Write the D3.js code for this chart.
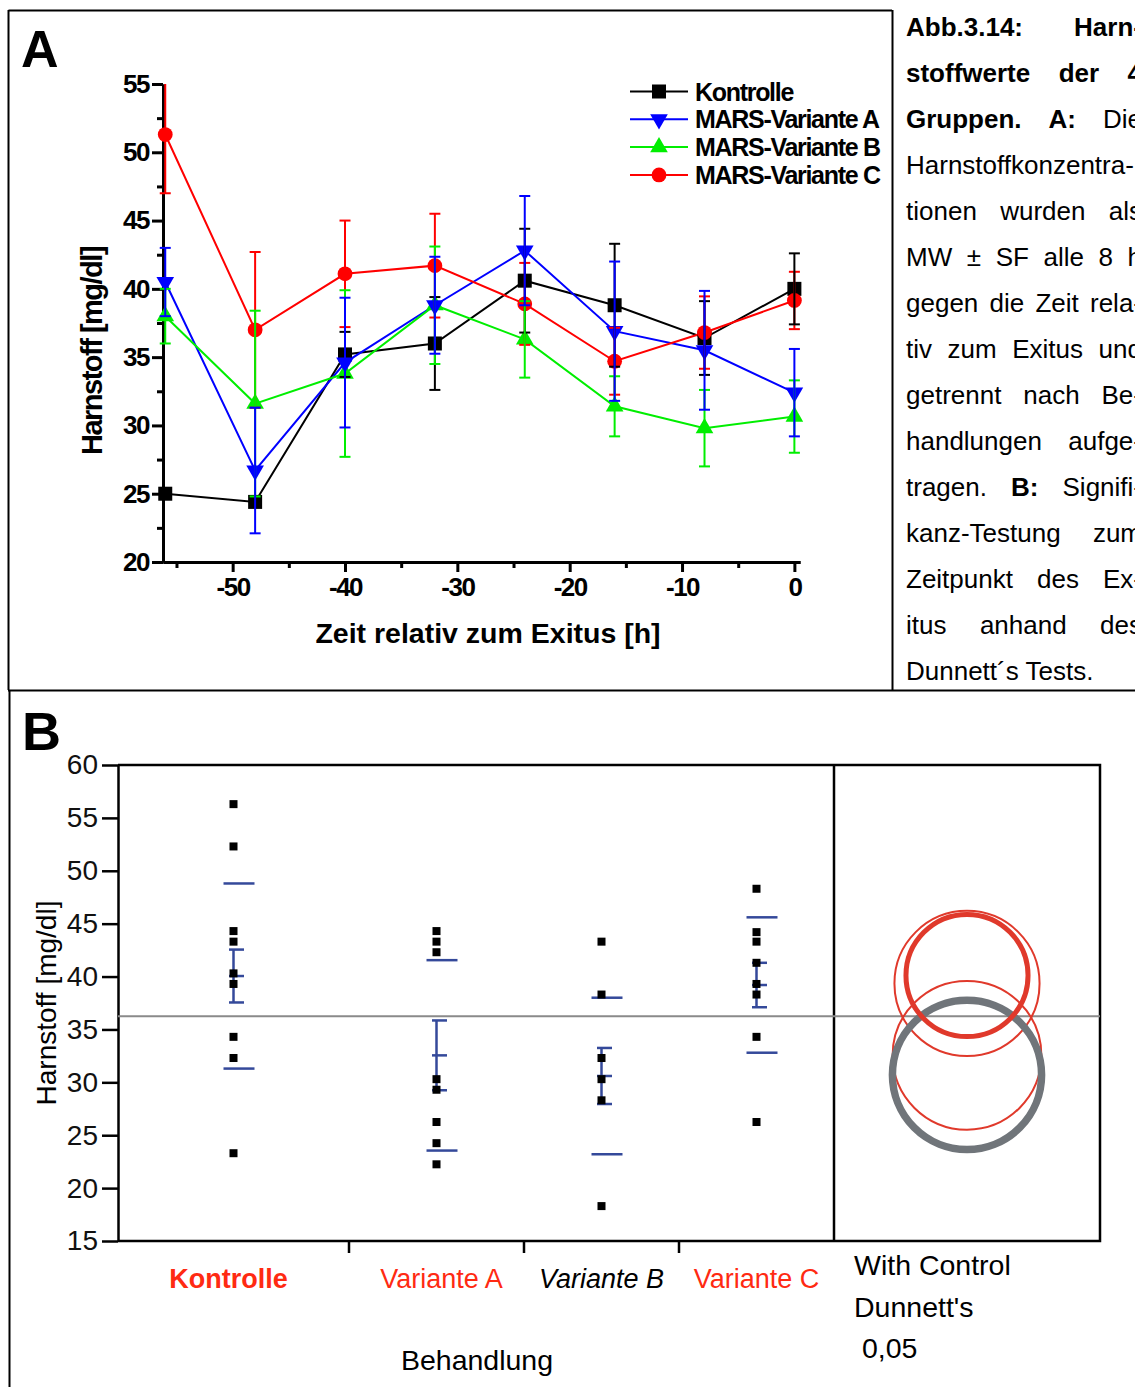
<!DOCTYPE html>
<html>
<head>
<meta charset="utf-8">
<script src="https://cdn.jsdelivr.net/npm/d3@7"></script>
<style>
body { margin: 0; background: #fff; }
svg { display: block; font-family: "Liberation Sans", Arial, Helvetica, sans-serif; }
</style>
</head>
<body>
<script>
// ---- panel A : time course (mean +/- SE) ----
var hours = [-56, -48, -40, -32, -24, -16, -8, 0];
var kontrolleMean = [25.0, 24.4, 35.2, 36.0, 40.6, 38.8, 36.4, 40.0];
var kontrolleErr = [0, 0, 1.65, 3.4, 3.8, 4.5, 2.7, 2.6];
var varAMean = [40.5, 26.7, 34.6, 38.8, 42.8, 36.9, 35.5, 32.4];
var varAErr = [2.5, 4.6, 4.75, 3.55, 4.0, 5.1, 4.35, 3.2];
var varBMean = [38.0, 31.6, 33.8, 38.8, 36.3, 31.4, 29.8, 30.65];
var varBErr = [2.0, 6.8, 6.1, 4.3, 2.8, 2.2, 2.8, 2.65];
var varCMean = [51.3, 37.0, 41.1, 41.7, 38.9, 34.7, 36.8, 39.15];
var varCErr = [4.3, 5.7, 3.9, 3.8, 3.0, 2.45, 2.65, 2.1];
var seriesNames = ["Kontrolle", "MARS-Variante A", "MARS-Variante B", "MARS-Variante C"];
var yTicksA = [20, 25, 30, 35, 40, 45, 50, 55];
var xTicksA = [-50, -40, -30, -20, -10, 0];

// ---- panel B : values at exitus ----
var groups = ["Kontrolle", "Variante A", "Variante B", "Variante C"];
var kontrollePts = [56.3, 52.3, 44.3, 43.3, 40.3, 39.3, 34.3, 32.3, 23.3];
var varAPts = [44.3, 43.3, 42.3, 30.3, 29.3, 26.25, 24.25, 22.25];
var varBPts = [43.3, 38.3, 32.3, 30.3, 28.3, 18.3];
var varCPts = [48.3, 44.2, 43.3, 41.3, 39.3, 38.3, 34.3, 26.25];
var groupMean = [40.05, 32.55, 30.6, 39.2];
var groupSE = [2.5, 3.3, 2.65, 2.1];
var groupSD = [8.75, 9.0, 7.4, 6.4];
var grandMean = 36.25;
var circleCenter = [40.1, 32.55, 30.7, 39.35];
var circleRadius = [5.77, 7.03, 7.05, 6.86];
var yTicksB = [15, 20, 25, 30, 35, 40, 45, 50, 55, 60];

var captionLines = [
	[["Abb.3.14:", 1], ["Harn-", 1]],
	[["stoffwerte", 1], ["der", 1], ["4", 1]],
	[["Gruppen.", 1], ["A:", 1], ["Die", 0]],
	[["Harnstoffkonzentra-", 0]],
	[["tionen", 0], ["wurden", 0], ["als", 0]],
	[["MW", 0], ["±", 0], ["SF", 0], ["alle", 0], ["8", 0], ["h", 0]],
	[["gegen", 0], ["die", 0], ["Zeit", 0], ["rela-", 0]],
	[["tiv", 0], ["zum", 0], ["Exitus", 0], ["und", 0]],
	[["getrennt", 0], ["nach", 0], ["Be-", 0]],
	[["handlungen", 0], ["aufge-", 0]],
	[["tragen.", 0], ["B:", 1], ["Signifi-", 0]],
	[["kanz-Testung", 0], ["zum", 0]],
	[["Zeitpunkt", 0], ["des", 0], ["Ex-", 0]],
	[["itus", 0], ["anhand", 0], ["des", 0]],
	[["Dunnett´s Tests.", 0]]
];

var svg = d3.select("body").append("svg").attr("width", 1135).attr("height", 1387);
svg.append("rect").attr("width", 1135).attr("height", 1387).attr("fill", "#fff");

// frame lines
var frame = [[8.5, 10.5, 892, 10.5], [8.5, 10, 8.5, 690], [892.5, 10, 892.5, 690],
	[8, 690.5, 1135, 690.5], [9.5, 690, 9.5, 1387]];
frame.forEach(function(f) {
	svg.append("line").attr("x1", f[0]).attr("y1", f[1]).attr("x2", f[2]).attr("y2", f[3])
		.attr("stroke", "#000").attr("stroke-width", 2);
});

// ================= panel A =================
var xA = d3.scaleLinear().domain([-56.2, 0.5]).range([163, 800]);
var yA = d3.scaleLinear().domain([20, 55]).range([562, 84]);
var gA = svg.append("g");

gA.append("text").attr("x", 21).attr("y", 67).attr("font-size", 52).attr("font-weight", "bold").text("A");

function styleAxisA(g) {
	g.selectAll("path, line").attr("stroke", "#000").attr("stroke-width", 3);
	g.selectAll("text").attr("font-family", "Liberation Sans, Arial, sans-serif")
		.attr("font-size", 26).attr("font-weight", "bold").attr("letter-spacing", "-1.5px")
		.attr("fill", "#000");
}
var plain = function(d) { return String(d); };
var minorY = d3.range(22.5, 55, 5);
var minorX = d3.range(-55, 0, 10);
gA.append("g").attr("transform", "translate(163,0)")
	.call(d3.axisLeft(yA).tickValues(minorY).tickSize(6).tickSizeOuter(0).tickFormat(""))
	.call(styleAxisA);
gA.append("g").attr("transform", "translate(0,562)")
	.call(d3.axisBottom(xA).tickValues(minorX).tickSize(6).tickSizeOuter(0).tickFormat(""))
	.call(styleAxisA);
gA.append("g").attr("transform", "translate(163,0)")
	.call(d3.axisLeft(yA).tickValues(yTicksA).tickSize(11).tickPadding(3).tickSizeOuter(0).tickFormat(plain))
	.call(styleAxisA);
gA.append("g").attr("transform", "translate(0,562)")
	.call(d3.axisBottom(xA).tickValues(xTicksA).tickSize(10).tickPadding(6).tickSizeOuter(0).tickFormat(plain))
	.call(styleAxisA);

gA.append("text").attr("x", 488).attr("y", 643).attr("text-anchor", "middle")
	.attr("font-size", 28.5).attr("font-weight", "bold").attr("letter-spacing", "0px")
	.text("Zeit relativ zum Exitus [h]");
gA.append("text").attr("transform", "translate(102,351) rotate(-90)").attr("text-anchor", "middle")
	.attr("font-size", 29).attr("font-weight", "bold").attr("letter-spacing", "-1.5px")
	.text("Harnstoff [mg/dl]");

var seriesA = [
	{ name: seriesNames[0], mean: kontrolleMean, err: kontrolleErr, color: "#000000", shape: "square" },
	{ name: seriesNames[1], mean: varAMean, err: varAErr, color: "#0000ff", shape: "down" },
	{ name: seriesNames[2], mean: varBMean, err: varBErr, color: "#00ee00", shape: "up" },
	{ name: seriesNames[3], mean: varCMean, err: varCErr, color: "#ff0000", shape: "circle" }
];

function drawMarker(g, shape, color, x, y) {
	if (shape == "square") {
		g.append("rect").attr("x", x - 7).attr("y", y - 7).attr("width", 14).attr("height", 14).attr("fill", color);
	} else if (shape == "circle") {
		g.append("circle").attr("cx", x).attr("cy", y).attr("r", 7.4).attr("fill", color);
	} else {
		g.append("path").attr("d", d3.symbol().type(d3.symbolTriangle).size(135)())
			.attr("transform", "translate(" + x + "," + y + ")" + (shape == "down" ? " rotate(180)" : ""))
			.attr("fill", color);
	}
}

var lineGen = d3.line().x(function(d) { return xA(d[0]); }).y(function(d) { return yA(d[1]); });
var linesLayer = gA.append("g"), markLayer = gA.append("g"), errLayer = gA.append("g");

seriesA.forEach(function(s) {
	var pts = hours.map(function(h, i) { return [h, s.mean[i]]; });
	linesLayer.append("path").attr("d", lineGen(pts)).attr("fill", "none")
		.attr("stroke", s.color).attr("stroke-width", 2);
});
[0, 2, 1, 3].forEach(function(k) {
	var s = seriesA[k];
	hours.forEach(function(h, i) { drawMarker(markLayer, s.shape, s.color, xA(h), yA(s.mean[i])); });
});
[3, 0, 2, 1].forEach(function(k) {
	var s = seriesA[k];
	hours.forEach(function(h, i) {
		if (!s.err[i]) return;
		var hi = s.mean[i] + s.err[i], lo = s.mean[i] - s.err[i];
		var clipped = hi > 55;
		hi = Math.min(hi, 55);
		var x = xA(h);
		errLayer.append("line").attr("x1", x).attr("x2", x).attr("y1", yA(lo)).attr("y2", yA(hi))
			.attr("stroke", s.color).attr("stroke-width", 2);
		[lo, hi].forEach(function(v, j) {
			if (j == 1 && clipped) return;
			errLayer.append("line").attr("x1", x - 5.5).attr("x2", x + 5.5).attr("y1", yA(v)).attr("y2", yA(v))
				.attr("stroke", s.color).attr("stroke-width", 2);
		});
	});
});

// legend
svg.append("defs").append("clipPath").attr("id", "legclip").append("rect")
	.attr("x", 600).attr("y", 60).attr("width", 281).attr("height", 140);
var leg = gA.append("g").attr("clip-path", "url(#legclip)");
seriesA.forEach(function(s, i) {
	var ly = 91.5 + i * 27.8;
	leg.append("line").attr("x1", 630).attr("x2", 688).attr("y1", ly).attr("y2", ly)
		.attr("stroke", s.color).attr("stroke-width", 2);
	drawMarker(leg, s.shape, s.color, 659, ly);
	leg.append("text").attr("x", 695).attr("y", ly + 9).attr("font-size", 25).attr("font-weight", "bold")
		.attr("letter-spacing", "-1.3px").text(s.name);
});

// caption (justified, runs off the right edge like the scan)
var capLeft = 906, capRight = 1142;
captionLines.forEach(function(line, li) {
	var by = 35.5 + li * 46;
	var words = line.map(function(w) {
		return svg.append("text").attr("y", by).attr("font-size", 26)
			.attr("font-weight", w[1] ? "bold" : "normal").text(w[0]);
	});
	var widths = words.map(function(t) { return t.node().getComputedTextLength(); });
	var total = d3.sum(widths);
	var gap = (words.length > 1 && li < captionLines.length - 1) ? (capRight - capLeft - total) / (words.length - 1) : 7;
	var x = capLeft;
	words.forEach(function(t, i) { t.attr("x", x); x += widths[i] + gap; });
});

// ================= panel B =================
var gB = svg.append("g");
var yB = d3.scaleLinear().domain([15, 60]).range([1241, 765]);
var cum = [0, 231, 406, 561, 716];
var xB = d3.scaleLinear().domain([0, 716]).range([118, 834]);
var centers = groups.map(function(g, i) { return xB((cum[i] + cum[i + 1]) / 2); });
var labelShift = [-5, 5, 0, 0];

gB.append("text").attr("x", 22).attr("y", 750).attr("font-size", 54).attr("font-weight", "bold").text("B");

var axB = gB.append("g").attr("transform", "translate(118,0)")
	.call(d3.axisLeft(yB).tickValues(yTicksB).tickSize(16).tickPadding(4).tickSizeOuter(0));
axB.selectAll("path, line").attr("stroke", "#000").attr("stroke-width", 2.5);
axB.selectAll("text").attr("font-family", "Liberation Sans, Arial, sans-serif").attr("font-size", 28).attr("fill", "#111");

// frame
gB.append("path").attr("d", "M118,765H1100V1241H118").attr("fill", "none").attr("stroke", "#000").attr("stroke-width", 2.5);
gB.append("line").attr("x1", 834).attr("x2", 834).attr("y1", 765).attr("y2", 1241).attr("stroke", "#000").attr("stroke-width", 2.5);
cum.slice(1, 4).forEach(function(c) {
	gB.append("line").attr("x1", xB(c)).attr("x2", xB(c)).attr("y1", 1241).attr("y2", 1253)
		.attr("stroke", "#000").attr("stroke-width", 2.5);
});

// grand mean line
gB.append("line").attr("x1", 118).attr("x2", 1100).attr("y1", yB(grandMean)).attr("y2", yB(grandMean))
	.attr("stroke", "#8a8a8a").attr("stroke-width", 2);

var blue = "#34499a";
var allPts = [kontrollePts, varAPts, varBPts, varCPts];
groups.forEach(function(g, i) {
	var cx = centers[i];
	var m = groupMean[i];
	[m - groupSD[i], m + groupSD[i]].forEach(function(v) {
		gB.append("line").attr("x1", cx - 10).attr("x2", cx + 21).attr("y1", yB(v)).attr("y2", yB(v))
			.attr("stroke", blue).attr("stroke-width", 2.5);
	});
	gB.append("line").attr("x1", cx).attr("x2", cx).attr("y1", yB(m - groupSE[i])).attr("y2", yB(m + groupSE[i]))
		.attr("stroke", blue).attr("stroke-width", 2.5);
	[m - groupSE[i], m, m + groupSE[i]].forEach(function(v) {
		gB.append("line").attr("x1", cx - 4.5).attr("x2", cx + 10.5).attr("y1", yB(v)).attr("y2", yB(v))
			.attr("stroke", blue).attr("stroke-width", 2.5);
	});
	allPts[i].forEach(function(v) {
		gB.append("rect").attr("x", cx - 4).attr("y", yB(v) - 4).attr("width", 8).attr("height", 8).attr("fill", "#000");
	});
});

// comparison circles
var circleStyle = [
	{ color: "#e0392b", width: 5 },
	{ color: "#e0392b", width: 2 },
	{ color: "#70757a", width: 7.5 },
	{ color: "#e0392b", width: 2 }
];
[1, 3, 2, 0].forEach(function(i) {
	gB.append("circle").attr("cx", 967).attr("cy", yB(circleCenter[i]))
		.attr("r", yB(15) - yB(15 + circleRadius[i])).attr("fill", "none")
		.attr("stroke", circleStyle[i].color).attr("stroke-width", circleStyle[i].width);
});

// category labels
var labelStyle = [
	{ fill: "#ff2a12", weight: "bold", style: "normal" },
	{ fill: "#ff2a12", weight: "normal", style: "normal" },
	{ fill: "#000", weight: "normal", style: "italic" },
	{ fill: "#ff2a12", weight: "normal", style: "normal" }
];
groups.forEach(function(g, i) {
	gB.append("text").attr("x", centers[i] + labelShift[i]).attr("y", 1288).attr("text-anchor", "middle")
		.attr("font-size", 27).attr("fill", labelStyle[i].fill).attr("font-weight", labelStyle[i].weight)
		.attr("font-style", labelStyle[i].style).text(g);
});
gB.append("text").attr("x", 477).attr("y", 1370).attr("text-anchor", "middle").attr("font-size", 28.5).text("Behandlung");
gB.append("text").attr("x", 854).attr("y", 1275).attr("font-size", 28.5).text("With Control");
gB.append("text").attr("x", 854).attr("y", 1317).attr("font-size", 28.5).text("Dunnett's");
gB.append("text").attr("x", 862).attr("y", 1358).attr("font-size", 28.5).text("0,05");
gB.append("text").attr("transform", "translate(56,1003) rotate(-90)").attr("text-anchor", "middle")
	.attr("font-size", 28).text("Harnstoff [mg/dl]");
</script>
</body>
</html>
